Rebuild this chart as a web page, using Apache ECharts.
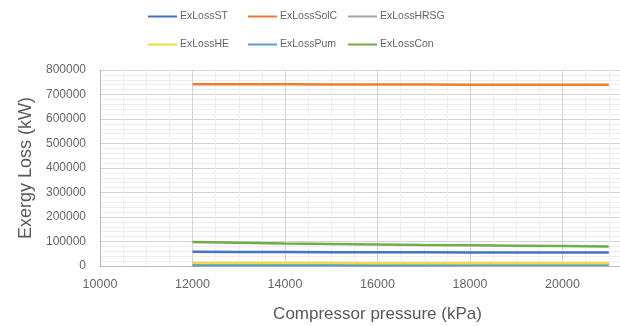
<!DOCTYPE html>
<html>
<head>
<meta charset="utf-8">
<script src="https://cdn.jsdelivr.net/npm/echarts@6/dist/echarts.min.js"></script>
<style>
  html, body { margin: 0; padding: 0; background: #fff; overflow: hidden; }
  #chart { width: 620px; height: 326px; }
</style>
</head>
<body>
<div id="chart"></div>
<script>
// Compressor pressure (kPa)
const pressure = [12000, 13000, 14000, 15000, 16000, 17000, 18000, 19000, 20000, 21000];

// Exergy loss per component (kW)
const exLossST   = [58000, 57500, 57000, 56500, 56000, 55800, 55500, 55200, 55000, 54800];
const exLossSolC = [742000, 742000, 742000, 741000, 741000, 741000, 740000, 740000, 740000, 740000];
const exLossHRSG = [9000, 9000, 9000, 9000, 9000, 9000, 9000, 9000, 9000, 9000];
const exLossHE   = [12000, 12000, 11800, 11800, 11600, 11600, 11500, 11500, 11400, 11400];
const exLossPum  = [3000, 3100, 3200, 3300, 3400, 3500, 3600, 3700, 3800, 3900];
const exLossCon  = [98000, 95000, 92000, 90000, 88000, 86000, 84500, 83000, 81500, 80000];

const seriesNames = ['ExLossST', 'ExLossSolC', 'ExLossHRSG', 'ExLossHE', 'ExLossPum', 'ExLossCon'];
const seriesData = [exLossST, exLossSolC, exLossHRSG, exLossHE, exLossPum, exLossCon];
const colors = ['#4472C4', '#ED7D31', '#A5A5A5', '#F2DC3C', '#5B9BD5', '#70AD47'];

const chart = echarts.init(document.getElementById('chart'));

const series = seriesNames.map((name, i) => ({
  name: name,
  type: 'line',
  data: pressure.map((p, j) => [p, seriesData[i][j]]),
  symbol: 'none',
  lineStyle: { width: 2.5, color: colors[i] },
  itemStyle: { color: colors[i] },
  z: i === 3 ? 3 : 2
}));

// One legend entry per slot: three columns, two rows
const legendCols = [143, 243, 343];
const legendRows = [6, 34];
const legends = seriesNames.map((name, i) => ({
  data: [name],
  left: legendCols[i % 3],
  top: legendRows[Math.floor(i / 3)],
  itemWidth: 29, itemHeight: 2,
  icon: 'rect',
  textStyle: { fontSize: 10.5, color: '#666', fontFamily: 'Liberation Sans Narrow, Liberation Sans', padding: [0, 0, 0, -2] }
}));

// The plot area runs on past the right edge of the canvas (x axis ends at 22000)
chart.setOption({
  animation: false,
  backgroundColor: '#fff',
  color: colors,
  legend: legends,
  grid: { left: 100, right: -35, top: 70, bottom: 60, containLabel: false, outerBoundsMode: 'none' },
  xAxis: {
    type: 'value',
    min: 10000, max: 22000, interval: 2000,
    name: 'Compressor pressure (kPa)',
    nameLocation: 'middle', nameGap: 40,
    nameTextStyle: { fontSize: 17, color: '#595959', fontFamily: 'Liberation Sans' },
    axisLine: { show: true, lineStyle: { color: '#bbb' } },
    axisTick: { show: false },
    axisLabel: {
      fontSize: 12.5, color: '#666', fontFamily: 'Liberation Sans', margin: 12,
      formatter: v => String(v)
    },
    splitLine: { show: true, lineStyle: { color: '#d4d4d4', width: 1 } },
    minorTick: { show: false, splitNumber: 4 },
    minorSplitLine: { show: true, lineStyle: { color: '#eeeeee', width: 1 } }
  },
  yAxis: {
    type: 'value',
    min: 0, max: 800000, interval: 100000,
    name: 'Exergy Loss (kW)',
    nameLocation: 'middle', nameGap: 64,
    nameTextStyle: { fontSize: 18, color: '#595959', fontFamily: 'Liberation Sans' },
    axisLine: { show: true, lineStyle: { color: '#bbb' } },
    axisTick: { show: false },
    axisLabel: {
      fontSize: 12, color: '#666', fontFamily: 'Liberation Sans', margin: 14,
      formatter: v => String(v)
    },
    splitLine: { show: true, lineStyle: { color: '#d4d4d4', width: 1 } },
    minorTick: { show: false, splitNumber: 5 },
    minorSplitLine: { show: true, lineStyle: { color: '#eeeeee', width: 1 } }
  },
  series: series
});
</script>
</body>
</html>
